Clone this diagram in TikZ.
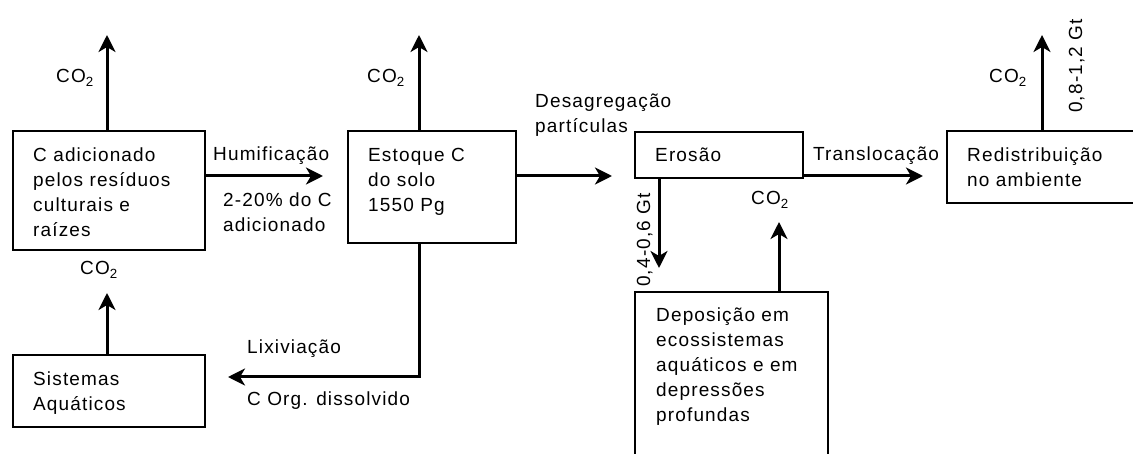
\documentclass[tikz,border=0pt]{standalone}
\usepackage{fontspec}
\setmainfont{Liberation Sans}[LetterSpace=6]
\usetikzlibrary{arrows.meta}
\begin{document}
\begin{tikzpicture}[x=1pt,y=-1pt,
  box/.style={draw, line width=2pt, anchor=north west, inner sep=0pt},
  txt/.style={anchor=north west, inner sep=0pt, align=left, font=\fontsize{19}{25}\selectfont},
  lbl/.style={anchor=base west, inner sep=0pt, font=\fontsize{19}{25}\selectfont},
  co/.style={inner sep=0pt, font=\fontsize{19}{25}\selectfont},
  arr/.style={line width=3pt, -{Stealth[length=17pt,width=17pt,inset=5pt]}},
]
\useasboundingbox (0,0) rectangle (1133,454);
\clip (0,0) rectangle (1133,454);
% boxes
\node[box, minimum width=192pt, minimum height=119pt] (b1) at (12,130) {};
\node[box, minimum width=168pt, minimum height=112pt] (b2) at (347,130) {};
\node[box, minimum width=168pt, minimum height=46pt] (ero) at (634,131) {};
\node[box, minimum width=200pt, minimum height=72pt] (red) at (946,130) {};
\node[box, minimum width=192pt, minimum height=72pt] (sis) at (12,354) {};
\node[box, minimum width=193pt, minimum height=190pt] (dep) at (634,291) {};
% box texts
\node[txt] (tb1) at ([shift={(21,14)}]b1.north west) {\strut C adicionado\\pelos resíduos\\culturais e\\raízes};
\node[txt] (tb2) at ([shift={(21,14)}]b2.north west) {\strut Estoque C\\do solo\\1550 Pg};
\node[txt] (tero) at ([shift={(21,13)}]ero.north west) {\strut Erosão};
\node[txt] (tred) at ([shift={(21,14)}]red.north west) {\strut Redistribuição\\no ambiente};
\node[txt] (tsis) at ([shift={(21,14)}]sis.north west) {\strut Sistemas\\Aquáticos};
\node[txt] (tdep) at ([shift={(22,13)}]dep.north west) {\strut Deposição em\\ecossistemas\\aquáticos e em\\depressões\\profundas};
% arrow end points
\coordinate (u1) at (107,35);
\coordinate (u2) at (419,35);
\coordinate (u3) at (1042,35);
\coordinate (h) at (323,176);
\coordinate (d) at (612,176);
\coordinate (t) at (923,176);
\coordinate (lv) at (419,377);
\coordinate (lx) at (228,377);
\coordinate (e1) at (659,268);
\coordinate (e2) at (779,222);
\coordinate (s1) at (107,293);
% arrows
\draw[arr] (u1 |- b1.north) -- (u1);
\draw[arr] (u2 |- b2.north) -- (u2);
\draw[arr] (u3 |- red.north) -- (u3);
\draw[arr] (b1.east |- h) -- (h);
\draw[arr] (b2.east |- d) -- (d);
\draw[arr] (ero.east |- t) -- (t);
\draw[arr] (lv |- b2.south) -- (lv) -- (lx);
\draw[arr] (e1 |- ero.south) -- (e1);
\draw[arr] (e2 |- dep.north) -- (e2);
\draw[arr] (s1 |- sis.north) -- (s1);
% CO2 labels
\node[co] (co1) at (75,78) {CO\textsubscript{2}};
\node[co] (co2) at (386,78) {CO\textsubscript{2}};
\node[co] (co3) at (1008,78) {CO\textsubscript{2}};
\node[co] (co4) at (770,200) {CO\textsubscript{2}};
\node[co] (co5) at (99,270) {CO\textsubscript{2}};
% flow labels
\node[lbl] (lh) at (213,161) {Humificação};
\node[lbl] (lh2) at (223,207) {2-20\% do C};
\node[lbl] (lh3) at (223,232) {adicionado};
\node[lbl] (ld1) at (535,108) {Desagregação};
\node[lbl] (ld2) at (535,133) {partículas};
\node[lbl] (lt) at (813,161) {Translocação};
\node[lbl] (ll1) at (247,354) {Lixiviação};
\node[lbl] (ll2) at (247,405) {C Org. dissolvido};
\node[lbl, rotate=90] (g1) at (650,287) {0,4-0,6 Gt};
\node[lbl, rotate=90] (g2) at (1082,113) {0,8-1,2 Gt};
\end{tikzpicture}
\end{document}
